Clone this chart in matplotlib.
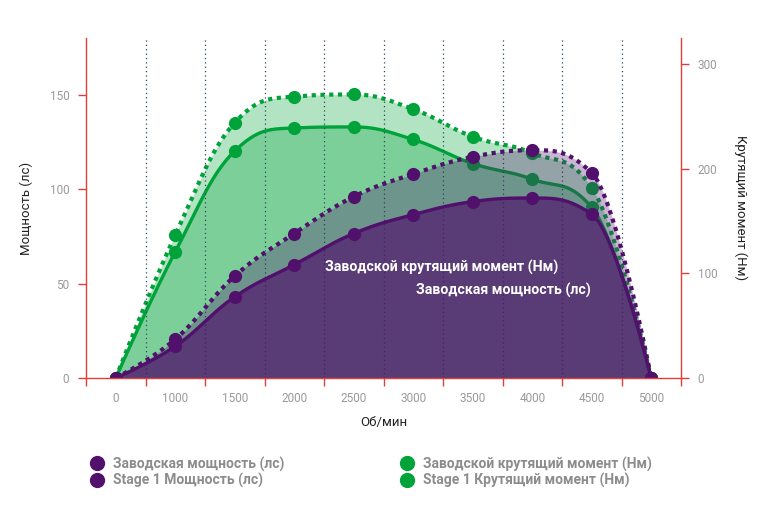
import numpy as np
import matplotlib
matplotlib.use('Agg')
import matplotlib.pyplot as plt
from matplotlib.lines import Line2D

# ---------------- data ----------------
rpm_labels = ['0', '1000', '1500', '2000', '2500', '3000', '3500', '4000', '4500', '5000']
stock_power = [0, 16.8, 43, 60, 76.5, 86.5, 93.4, 95.3, 86.7, 0]
stage1_power = [0, 20.5, 54, 76.5, 96, 108, 117.1, 120.6, 108.6, 0]
stock_torque = [0, 120.7, 217, 239, 240, 228, 205, 190, 163, 0]
stage1_torque = [0, 136.6, 244, 269, 271, 257, 230.6, 215, 182, 0]

legend_names = ['Заводская мощность (лс)', 'Stage 1 Мощность (лс)',
                'Заводской крутящий момент (Нм)', 'Stage 1 Крутящий момент (Нм)']

PURPLE = '#50106c'
GREEN = '#00a33a'
RED = '#e0403a'
GREY = '#9a9a9a'

plt.rcParams['font.family'] = ['Roboto', 'DejaVu Sans']


def hc_spline(xs, ys, n=40):
    pts = list(zip(map(float, xs), map(float, ys)))
    N = len(pts)
    lc = [None] * N
    rc = [None] * N
    sm, den = 1.5, 2.5
    for i in range(1, N - 1):
        x, y = pts[i]
        lx, ly = pts[i - 1]
        nx, ny = pts[i + 1]
        lcx = (sm * x + lx) / den
        lcy = (sm * y + ly) / den
        rcx = (sm * x + nx) / den
        rcy = (sm * y + ny) / den
        corr = 0
        if rcx != lcx:
            corr = (rcy - lcy) * (rcx - x) / (rcx - lcx) + y - rcy
        lcy += corr
        rcy += corr
        if lcy > ly and lcy > y:
            lcy = max(ly, y); rcy = 2 * y - lcy
        elif lcy < ly and lcy < y:
            lcy = min(ly, y); rcy = 2 * y - lcy
        if rcy > ny and rcy > y:
            rcy = max(ny, y); lcy = 2 * y - rcy
        elif rcy < ny and rcy < y:
            rcy = min(ny, y); lcy = 2 * y - rcy
        lc[i] = (lcx, lcy)
        rc[i] = (rcx, rcy)
    ox, oy = [pts[0][0]], [pts[0][1]]
    t = np.linspace(0, 1, n)[1:]
    for i in range(1, N):
        p0 = pts[i - 1]
        p1 = rc[i - 1] or p0
        p2 = lc[i] or pts[i]
        p3 = pts[i]
        a, b, c, d = (1 - t) ** 3, 3 * (1 - t) ** 2 * t, 3 * (1 - t) * t ** 2, t ** 3
        ox.extend(a * p0[0] + b * p1[0] + c * p2[0] + d * p3[0])
        oy.extend(a * p0[1] + b * p1[1] + c * p2[1] + d * p3[1])
    return np.array(ox), np.array(oy)


fig = plt.figure(figsize=(7.68, 5.12), dpi=100)
ax = fig.add_axes([86 / 768, 1 - 378 / 512, (681 - 86) / 768, (378 - 38) / 512])
ax2 = ax.twinx()
ax.set_zorder(ax2.get_zorder() + 1)
ax.patch.set_visible(False)

x = np.arange(len(rpm_labels))

# torque (right axis)
for vals in (stage1_torque, stock_torque):
    sx, sy = hc_spline(x, vals)
    ax2.fill_between(sx, 0, sy, color=GREEN, alpha=0.30, lw=0)
for vals, ls in [(stage1_torque, 'dotted'), (stock_torque, 'solid')]:
    sx, sy = hc_spline(x, vals)
    if ls == 'dotted':
        ax2.plot(sx, sy, color=GREEN, lw=3.0, linestyle=(0, (1, 1.1)), dash_capstyle='butt')
    else:
        ax2.plot(sx, sy, color=GREEN, lw=2.4)
    ax2.plot(x, vals, 'o', color=GREEN, ms=9.5, mew=0)

# power (left axis)
for vals, alpha in [(stage1_power, 0.30), (stock_power, 0.68)]:
    sx, sy = hc_spline(x, vals)
    ax.fill_between(sx, 0, sy, color=PURPLE, alpha=alpha, lw=0)
for vals, ls in [(stage1_power, 'dotted'), (stock_power, 'solid')]:
    sx, sy = hc_spline(x, vals)
    if ls == 'dotted':
        ax.plot(sx, sy, color=PURPLE, lw=3.0, linestyle=(0, (1, 1.1)), dash_capstyle='butt')
    else:
        ax.plot(sx, sy, color=PURPLE, lw=2.4)
    ax.plot(x, vals, 'o', color=PURPLE, ms=9.5, mew=0)

# axes limits
ax.set_xlim(-0.5, len(rpm_labels) - 0.5)
ax.set_ylim(0, 180)
ax2.set_ylim(0, 325)

# grid (vertical dotted at category boundaries)
for b in np.arange(0.5, len(rpm_labels) - 1, 1.0):
    ax.axvline(b, color='#2d4a5c', lw=0.9, linestyle=(0, (1, 2.5)), zorder=0.5)

# spines
for a in (ax, ax2):
    a.spines['top'].set_visible(False)
ax.spines['right'].set_visible(False)
ax2.spines['left'].set_visible(False)
ax2.spines['bottom'].set_visible(False)
ax.spines['left'].set_color(RED)
ax.spines['bottom'].set_color(RED)
ax2.spines['right'].set_color(RED)
for s in (ax.spines['left'], ax.spines['bottom'], ax2.spines['right']):
    s.set_linewidth(1.0)

# ticks
ax.set_yticks([0, 50, 100, 150])
ax2.set_yticks([0, 100, 200, 300])
ax.tick_params(axis='y', colors=RED, labelcolor=GREY, length=6, width=1, pad=6, labelsize=8.5)
ax2.tick_params(axis='y', colors=RED, labelcolor=GREY, length=6, width=1, pad=6, labelsize=8.5)
ax.set_xticks(np.arange(-0.5, len(rpm_labels), 1.0))
ax.set_xticklabels([])
ax.tick_params(axis='x', which='major', colors=RED, length=6, width=1)
ax.set_xticks(x, minor=True)
ax.set_xticklabels(rpm_labels, minor=True)
ax.tick_params(axis='x', which='minor', length=0, labelcolor=GREY, labelsize=8.5, pad=10)

ax.set_xlabel('Об/мин', fontsize=9.5, color='#222222', labelpad=8)
ax.set_ylabel('Мощность (лс)', fontsize=9.5, color='#222222', labelpad=12)
ax2.set_ylabel('Крутящий момент (Нм)', fontsize=9.5, color='#222222', rotation=270, labelpad=22)

# data labels
ax.text(3.51, 58.5, 'Заводской крутящий момент (Нм)', color='white', fontsize=10.2,
        fontweight='bold', ha='left', va='center')
ax.text(5.04, 46.3, 'Заводская мощность (лс)', color='white', fontsize=10.2,
        fontweight='bold', ha='left', va='center')

# legends
def mk(c):
    return Line2D([], [], marker='o', color=c, ls='none', ms=11, mew=0)

leg_kw = dict(loc='upper left', frameon=False, handletextpad=0.6, labelspacing=0.12,
              handlelength=1.1, borderaxespad=0, prop={'weight': 'bold', 'size': 10})
leg1 = fig.legend([mk(PURPLE), mk(PURPLE)], legend_names[:2],
                  bbox_to_anchor=(84 / 768, 1 - 451 / 512), **leg_kw)
leg2 = fig.legend([mk(GREEN), mk(GREEN)], legend_names[2:],
                  bbox_to_anchor=(394 / 768, 1 - 451 / 512), **leg_kw)
for lg in (leg1, leg2):
    for t in lg.get_texts():
        t.set_color('#8c8c8c')

fig.savefig('out.png', dpi=100)
